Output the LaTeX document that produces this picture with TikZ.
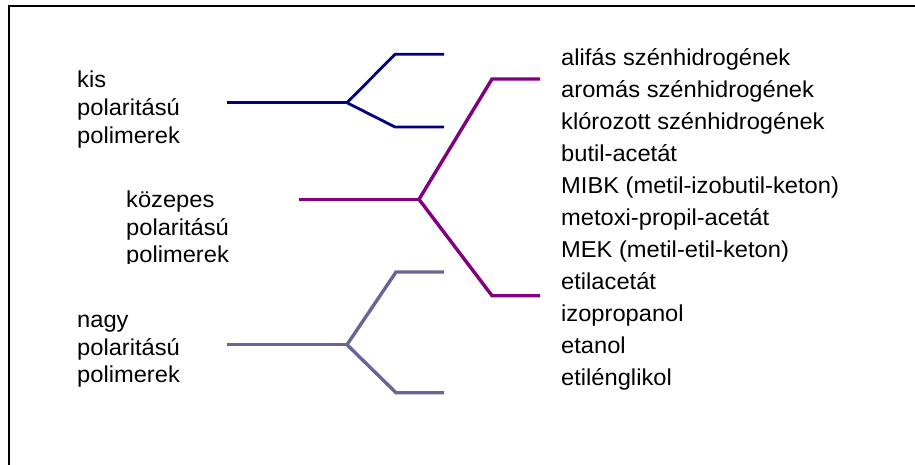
\documentclass[tikz,border=0pt]{standalone}
\usepackage{fontspec}
\setmainfont[FakeStretch=1.03]{Liberation Sans}
\definecolor{navyc}{HTML}{000080}
\definecolor{purplec}{HTML}{800080}
\definecolor{slatec}{HTML}{666699}
\tikzset{
  lbl/.style={anchor=base west, inner sep=0pt, font=\fontsize{23}{28}\selectfont},
  frameline/.style={draw=black, line width=2pt},
  bluebr/.style={draw=navyc, line width=2.8pt, line join=miter},
  purplebr/.style={draw=purplec, line width=3.4pt, line join=miter},
  slatebr/.style={draw=slatec, line width=3.4pt, line join=miter}
}
\begin{document}
\begin{tikzpicture}[x=1pt,y=-1pt]
\useasboundingbox (0,0) rectangle (915,464);
% frame (only left and top edges visible)
\coordinate (fbl) at (8.5,470);
\coordinate (ftl) at (8.5,5.5);
\coordinate (ftr) at (920,5.5);
\draw[frameline] (fbl) -- (ftl) -- (ftr);

% left labels
\node[lbl] (k1) at (77,87) {kis};
\node[lbl] (k2) at (77,115) {polaritású};
\node[lbl] (k3) at (77,143) {polimerek};

\node[lbl] (m1) at (126,207) {közepes};
\node[lbl] (m2) at (126,235) {polaritású};
\begin{scope}
\clip (0,0) rectangle (915,263);
\node[lbl] (m3) at (126,262.5) {polimerek};
\end{scope}

\node[lbl] (n1) at (77,327) {nagy};
\node[lbl] (n2) at (77,355) {polaritású};
\node[lbl] (n3) at (77,382.5) {polimerek};

% right list
\foreach \t [count=\i] in {alifás szénhidrogének, aromás szénhidrogének, klórozott szénhidrogének, butil-acetát, MIBK (metil-izobutil-keton), metoxi-propil-acetát, MEK (metil-etil-keton), etilacetát, izopropanol, etanol, etilénglikol}
  \node[lbl] (r\i) at (561,{65.5+(\i-1)*32}) {\t};

% blue bracket
\coordinate (bs) at (227,102.7);
\coordinate (bj) at (347,102.7);
\coordinate (bu) at (395,54.3);
\coordinate (bue) at (444,54.3);
\coordinate (bl) at (395,127);
\coordinate (ble) at (444,127);
\draw[bluebr] (bs) -- (bj);
\draw[bluebr] (bue) -- (bu) -- (bj) -- (bl) -- (ble);

% purple bracket
\coordinate (ps) at (299,199.3);
\coordinate (pj) at (419,199.3);
\coordinate (pu) at (492,79);
\coordinate (pue) at (540,79);
\coordinate (pl) at (492,295.7);
\coordinate (ple) at (540,295.7);
\draw[purplebr] (ps) -- (pj);
\draw[purplebr] (pue) -- (pu) -- (pj) -- (pl) -- (ple);

% slate bracket
\coordinate (ss) at (227,344.7);
\coordinate (sj) at (347,344.7);
\coordinate (su) at (396,272);
\coordinate (sue) at (444,272);
\coordinate (sl) at (396,392.7);
\coordinate (sle) at (444,392.7);
\draw[slatebr] (ss) -- (sj);
\draw[slatebr] (sue) -- (su) -- (sj) -- (sl) -- (sle);
\end{tikzpicture}
\end{document}
